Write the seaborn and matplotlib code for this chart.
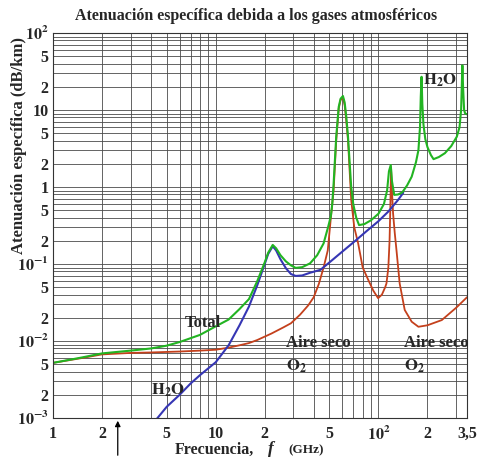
import matplotlib
matplotlib.use('Agg')
import matplotlib.pyplot as plt
from matplotlib.ticker import FixedLocator
import seaborn as sns

# Total (green)
total_f = [1, 1.5, 2, 3, 4, 5, 6, 8, 10, 12, 14, 16, 18, 20, 21, 22.4, 23.5, 25, 27, 29,
           31, 34, 38, 42, 46, 49, 51, 52, 53, 55, 57, 58.5, 60.5, 62, 63.5, 65, 68, 70,
           73, 76, 82, 90, 100, 108, 113, 116, 119, 121, 125, 132, 140, 150, 160, 170,
           176, 180, 182, 184, 186, 189, 194, 200, 210, 218, 235, 256, 280, 303, 315,
           322, 326, 328, 331, 336, 341, 350]
total_db = [0.0052, 0.0061, 0.0069, 0.0075, 0.0080, 0.0087, 0.0097, 0.012, 0.0155, 0.019,
            0.026, 0.035, 0.060, 0.105, 0.14, 0.177, 0.16, 0.13, 0.108, 0.096,
            0.089, 0.091, 0.102, 0.13, 0.185, 0.30, 0.42, 0.6, 1.1, 4.5, 11, 14, 15.2,
            12.5, 8, 4.5, 1.0, 0.6,
            0.4, 0.32, 0.33, 0.37, 0.45, 0.6, 0.9, 1.6, 1.93, 1.2, 0.79, 0.8, 0.85,
            1.05, 1.36, 2.1,
            3.0, 6, 15, 27, 12, 6.5, 4.2, 3.3, 2.6, 2.3, 2.45, 2.75, 3.4, 4.5, 6,
            10, 25, 38, 20, 10, 9, 8.8]

# Vapor de agua (blue)
h2o_f = [4.3, 5, 6, 7, 8, 10, 12, 14, 16, 18, 20, 21, 22.4, 23.5, 25, 27, 29, 31, 34,
         38, 44, 50, 60, 71, 85, 100, 115, 132, 142]
h2o_db = [0.00095, 0.0014, 0.002, 0.0028, 0.0036, 0.0053, 0.0088, 0.016, 0.028, 0.053,
          0.10, 0.135, 0.17, 0.15, 0.115, 0.088, 0.074, 0.070, 0.071,
          0.077, 0.084, 0.105, 0.145, 0.195, 0.27, 0.36, 0.48, 0.68, 0.84]

# Aire seco, O2 (red)
o2_f = [1, 1.5, 2, 3, 4, 6, 8, 10, 12, 14, 16, 18, 22, 26, 29, 33, 37, 40, 43, 46,
        48.8, 51, 53, 55, 57, 58.5, 60.5, 62, 63.5, 65, 68, 71, 75, 80, 86.6, 93, 99.5,
        105, 110, 112, 115, 117, 118.2, 119.5, 121, 123, 126, 129, 135, 145, 160,
        176, 200, 245, 300, 350]
o2_db = [0.0052, 0.006, 0.0067, 0.0070, 0.0071, 0.0073, 0.0075, 0.0077, 0.0082, 0.0088,
         0.0094, 0.0103, 0.0125, 0.015, 0.017, 0.022, 0.029, 0.037, 0.055, 0.09,
         0.15, 0.4, 0.9, 4, 10.5, 13.5, 14.5, 11.5, 7, 4, 0.68, 0.3, 0.186, 0.09,
         0.062, 0.045, 0.036,
         0.04, 0.05, 0.056, 0.09, 0.2, 0.5, 1.8, 0.9, 0.45, 0.25, 0.152, 0.056, 0.0253,
         0.0178,
         0.0153, 0.016, 0.0187, 0.027, 0.037]

x_ticks = [1, 2, 5, 10, 20, 50, 100, 200, 350]
x_labels = ['1', '2', '5', '10', '2', '5', r'$\mathbf{10^{2}}$', '2', '3,5']
y_ticks = [1e-3, 2e-3, 5e-3, 1e-2, 2e-2, 5e-2, 0.1, 0.2, 0.5, 1, 2, 5, 10, 20, 50, 100]
y_labels = [r'$\mathbf{10^{-3}}$', '2', '5', r'$\mathbf{10^{-2}}$', '2', '5',
            r'$\mathbf{10^{-1}}$', '2', '5', '1', '2', '5', '10', '2', '5',
            r'$\mathbf{10^{2}}$']

sns.set_style('white')
plt.rcParams['font.family'] = ['Liberation Serif', 'DejaVu Serif']
plt.rcParams['mathtext.fontset'] = 'stix'

W, H = 493, 458
fig = plt.figure(figsize=(W / 100, H / 100), dpi=100)
ax = fig.add_axes([53 / W, 1 - 418 / H, (467 - 53) / W, (418 - 33) / H])

red = '#c4401c'
blue = '#3636b4'
green = '#22b422'
sns.lineplot(x=o2_f, y=o2_db, color=red, lw=1.3, ax=ax, sort=False, estimator=None)
sns.lineplot(x=h2o_f, y=h2o_db, color=blue, lw=1.5, ax=ax, sort=False, estimator=None)
sns.lineplot(x=total_f, y=total_db, color=green, lw=1.5, ax=ax, sort=False, estimator=None)

ax.set_xscale('log')
ax.set_yscale('log')
ax.set_xlim(1, 350)
ax.set_ylim(1e-3, 100)

minor = [m * 10 ** k for k in range(-3, 3) for m in range(1, 10)]
ax.set_xticks(x_ticks)
ax.set_xticklabels(x_labels)
ax.set_yticks(y_ticks)
ax.set_yticklabels(y_labels)
ax.xaxis.set_minor_locator(FixedLocator([v for v in minor if 1 <= v <= 350]))
ax.yaxis.set_minor_locator(FixedLocator([v for v in minor if 1e-3 <= v <= 100]))
ax.grid(which='both', color='#4a4a4a', lw=0.6)
ax.tick_params(which='both', length=0, labelsize=11.5)
ax.tick_params(axis='x', pad=6)
ax.tick_params(axis='y', pad=3)
for lbl in ax.get_xticklabels() + ax.get_yticklabels():
    lbl.set_fontweight('bold')
for s in ax.spines.values():
    s.set_color('#333333')
    s.set_linewidth(0.8)

# labels on the curves
txt = dict(fontsize=12, fontweight='bold')
ax.text(8.3, 0.0171, 'Total', ha='center', va='center', **txt)
ax.text(5.1, 0.0023, r'$\mathbf{H_2O}$', ha='center', va='center', **txt)
ax.text(238, 24.5, r'$\mathbf{H_2O}$', ha='center', va='center', **txt)
for f0 in (27, 142.6):
    ax.text(f0, 0.0094, 'Aire seco', ha='left', va='center', **txt)
    ax.text(f0, 0.0047, r'$\mathbf{O_2}$', ha='left', va='center', **txt)

# flecha en 2,45 GHz
ax.annotate('', xy=(2.5, 1e-3), xycoords='data',
            xytext=(2.5, 0), textcoords=('data', 'figure fraction'),
            arrowprops=dict(arrowstyle='-|>', color='black', lw=0.9, mutation_scale=8),
            annotation_clip=False)

fig.text(0.52, 1 - 16 / H, 'Atenuación específica debida a los gases atmosféricos',
         ha='center', va='center', fontsize=11.5, fontweight='bold')
fig.text(19 / W, 1 - 145 / H, 'Atenuación específica (dB/km)', rotation=90,
         ha='center', va='center', fontsize=12, fontweight='bold')
fig.text(175 / W, 1 - 450 / H, 'Frecuencia,', ha='left', va='center',
         fontsize=11.5, fontweight='bold')
fig.text(268 / W, 1 - 449 / H, 'f', ha='left', va='center', fontsize=12.5,
         fontweight='bold', style='italic')
fig.text(288 / W, 1 - 450 / H, '(GHz)', ha='left', va='center',
         fontsize=9.5, fontweight='bold')

fig.savefig('out.png', dpi=100, facecolor='white')
